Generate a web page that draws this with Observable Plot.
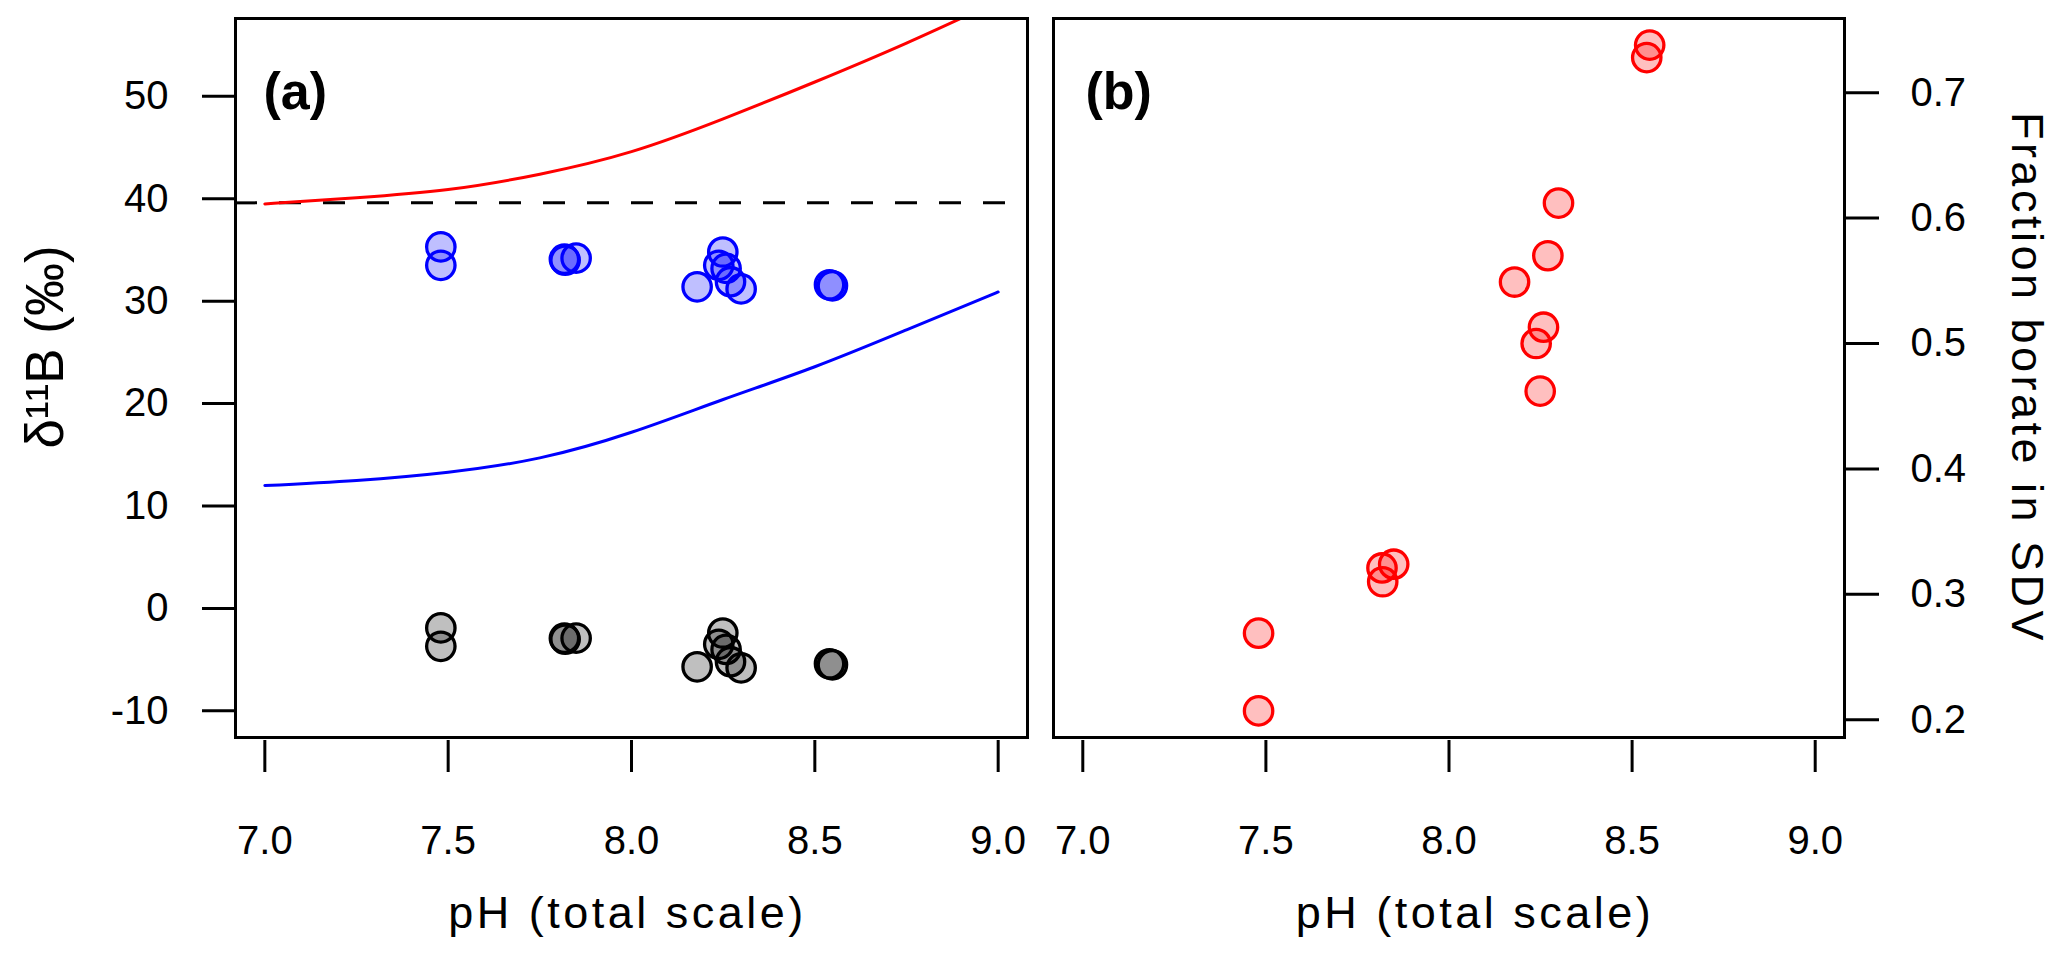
<!DOCTYPE html>
<html>
<head>
<meta charset="utf-8">
<script src="https://cdn.jsdelivr.net/npm/d3@7"></script>
<script src="https://cdn.jsdelivr.net/npm/@observablehq/plot@0.6"></script>
<style>
  body { margin: 0; background: white; }
  #wrap { position: relative; width: 2067px; height: 969px; }
  #panel_a { position: absolute; left: 0; top: 0; }
  #panel_b { position: absolute; left: 1040px; top: 0; }
</style>
</head>
<body>
<div id="wrap">
  <div id="panel_a"></div>
  <div id="panel_b"></div>
</div>
<script>
// muestras (mismo pH para las tres series)
const ph = [7.48, 7.48, 7.817, 7.819, 7.849, 8.179, 8.238, 8.249, 8.258, 8.270, 8.299, 8.540, 8.548]
const d11bAzul = [35.3, 33.5, 34.1, 34.0, 34.2, 31.4, 33.5, 34.8, 33.2, 31.9, 31.2, 31.6, 31.5]
const d11bGris = [-1.9, -3.7, -2.9, -3.0, -2.9, -5.7, -3.5, -2.4, -4.0, -5.2, -5.8, -5.4, -5.5]
const fraccionBorato = [0.269, 0.207, 0.321, 0.310, 0.324, 0.549, 0.500, 0.462, 0.513, 0.570, 0.612, 0.728, 0.738]

// curvas
const phCurva = [7.0, 7.25, 7.5, 7.75, 8.0, 8.25, 8.5, 8.75, 9.0]
const curvaRoja = [39.5, 40.1, 40.9, 42.4, 44.6, 47.8, 51.4, 55.2, 59.3]
const curvaAzul = [12.0, 12.5, 13.3, 14.7, 17.2, 20.4, 23.6, 27.2, 30.9]
const nivelAgua = 39.6

const xTicks = [7.0, 7.5, 8.0, 8.5, 9.0]
const yTicksA = [-10, 0, 10, 20, 30, 40, 50]
const yTicksB = [0.2, 0.3, 0.4, 0.5, 0.6, 0.7]

const muestras = ph.map((p, i) => ({ph: p, azul: d11bAzul[i], gris: d11bGris[i], frac: fraccionBorato[i]}))
const curvas = phCurva.map((p, i) => ({ph: p, roja: curvaRoja[i], azul: curvaAzul[i]}))

const fuente = "Liberation Sans, Arial, Helvetica, sans-serif"
const tituloX = "pH (total scale)"
const tituloB = "Fraction borate in SDV"

function puntos(data, y, color) {
  return Plot.dot(data, {x: 'ph', y: y, r: 14.2, fill: color, fillOpacity: 0.25, stroke: color, strokeWidth: 3.3})
}

let dataviz_a = Plot.plot({
  width: 1040,
  height: 969,
  marginLeft: 235,
  marginRight: 13,
  marginTop: 18,
  marginBottom: 232,
  style: {fontFamily: fuente, color: "black", background: "white", overflow: "visible"},
  x: {domain: [6.92, 9.08]},
  y: {domain: [-12.6, 57.6]},
  marks: [
    Plot.ruleY([nivelAgua], {stroke: "black", strokeWidth: 3, strokeDasharray: "22,22"}),
    Plot.line(curvas, {x: 'ph', y: 'roja', stroke: "red", strokeWidth: 3, curve: "natural", clip: true}),
    Plot.line(curvas, {x: 'ph', y: 'azul', stroke: "blue", strokeWidth: 3, curve: "natural", clip: true}),
    puntos(muestras, 'azul', "blue"),
    puntos(muestras, 'gris', "black"),
    Plot.frame({stroke: "black", strokeWidth: 3}),
    Plot.axisY({ticks: yTicksA, label: null, tickSize: 33, tickPadding: 34, strokeWidth: 3, fontSize: 40, tickFormat: d => String(d)}),
    Plot.axisX({ticks: xTicks, label: null, tickSize: 32, tickPadding: 53, dy: 3, strokeWidth: 3, fontSize: 40, tickFormat: d3.format(".1f")}),
    Plot.text(["(a)"], {frameAnchor: "top-left", textAnchor: "start", dx: 28, dy: 54, fontSize: 52, fontWeight: "bold"}),
    Plot.text([tituloX], {frameAnchor: "bottom", dx: -4, dy: 190, fontSize: 45}),
    Plot.text(["δ¹¹B (‰)"], {frameAnchor: "left", textAnchor: "middle", rotate: -90, dx: -189, dy: -31, fontSize: 53}),
  ],
})

let dataviz_b = Plot.plot({
  width: 1027,
  height: 969,
  marginLeft: 13,
  marginRight: 223,
  marginTop: 18,
  marginBottom: 232,
  style: {fontFamily: fuente, color: "black", background: "white", overflow: "visible"},
  x: {domain: [6.92, 9.08]},
  y: {domain: [0.1858, 0.7592]},
  marks: [
    puntos(muestras, 'frac', "red"),
    Plot.frame({stroke: "black", strokeWidth: 3}),
    Plot.axisY({anchor: "right", ticks: yTicksB, label: null, tickSize: 34, tickPadding: 32, strokeWidth: 3, fontSize: 40, tickFormat: d3.format(".1f")}),
    Plot.axisX({ticks: xTicks, label: null, tickSize: 32, tickPadding: 53, dy: 3, strokeWidth: 3, fontSize: 40, tickFormat: d3.format(".1f")}),
    Plot.text(["(b)"], {frameAnchor: "top-left", textAnchor: "start", dx: 32, dy: 54, fontSize: 52, fontWeight: "bold"}),
    Plot.text([tituloX], {frameAnchor: "bottom", dx: 26, dy: 190, fontSize: 45}),
    Plot.text([tituloB], {frameAnchor: "right", textAnchor: "middle", rotate: 90, dx: 182, fontSize: 45}),
  ],
})

d3.select('#panel_a').append(() => dataviz_a)
d3.select('#panel_b').append(() => dataviz_b)

// los titulos del original son algo mas anchos
d3.selectAll('text')
  .filter(function() { return this.textContent === tituloX || this.textContent === tituloB })
  .style('letter-spacing', '3.5px')
</script>
</body>
</html>
